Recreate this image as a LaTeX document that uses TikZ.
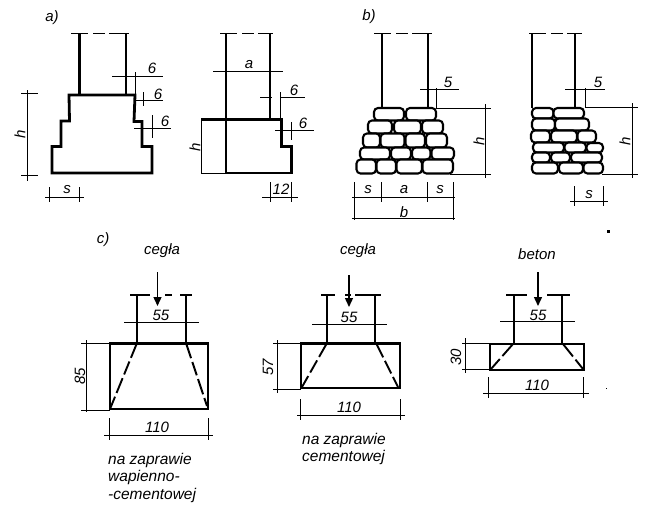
\documentclass[tikz,border=0pt]{standalone}
\usepackage{fontspec}
\setmainfont{Liberation Sans}
\usetikzlibrary{arrows.meta}
\tikzset{
  wall/.style={line width=2.8pt,line cap=butt,line join=miter},
  wallb/.style={line width=2.3pt,line cap=butt},
  med/.style={line width=2pt},
  dimn/.style={line width=0.9pt},
  topdash/.style={line width=1.8pt,dash pattern=on 17pt off 5pt on 12pt off 4pt on 20pt off 3pt},
  diag/.style={line width=1.9pt,dash pattern=on 16pt off 4pt on 14pt off 4pt},
  stone/.style={line width=2.1pt,rounded corners=4pt,fill=white},
  lab/.style={inner sep=0pt,font=\fontsize{15}{17}\selectfont\itshape},
  note/.style={inner sep=0pt,font=\fontsize{15.5}{17}\selectfont\itshape,anchor=west},
  load/.style={line width=1.4pt,-{Triangle[length=9pt,width=8pt]}},
}
\begin{document}
\begin{tikzpicture}[x=1pt,y=-1pt]
\useasboundingbox (0,0) rectangle (659,514);
\fill[white] (0,0) rectangle (659,514);

% ---------- a) left
\node[lab] (la) at (52,18) {a)};
\draw[wall] (79.5,33) -- (79.5,95);
\draw[wall] (126,33) -- (126,95);
\draw[topdash] (71,33.5) -- (131,33.5);
\draw[wall] (69,95) -- (135,95) -- (134,121.5) -- (142,121.5) -- (142,146.5) -- (152,146.5) -- (152,173) -- (52,173) -- (52,146.5) -- (61,146.5) -- (61,121) -- (69.5,121) -- cycle;
\draw[dimn] (112,76.5) -- (163,76.5) (135.5,72) -- (135.5,95);
\draw[dimn] (136,100.5) -- (163,100.5) (143,92) -- (143,106);
\draw[dimn] (134,128) -- (171,128) (152,115) -- (152,138);
\node[lab] (a6a) at (152,68) {6};
\node[lab] (a6b) at (158,94) {6};
\node[lab] (a6c) at (165,121) {6};
\draw[dimn] (27,90) -- (27,181) (21,93) -- (38,93) (21,175) -- (38,175);
\node[lab,rotate=90] (ah) at (20,134) {h};
\draw[dimn] (45,197.5) -- (84,197.5) (49,187) -- (49,202) (79,187) -- (79,202);
\node[lab] (as) at (67,190) {s};

% ---------- a) right
\draw[wallb] (226,33) -- (226,173);
\draw[wall] (270,33) -- (270,119);
\draw[topdash] (220,33.5) -- (273,33.5);
\draw[wall] (201,119.5) -- (281.5,119.5) -- (281.5,146.5) -- (291.5,146.5) -- (291.5,173) -- (226,173);
\draw[line width=1.6pt] (201.5,119) -- (201.5,173.5) -- (226,173.5);
\draw[dimn] (213,71) -- (283,71);
\node[lab] (aa) at (249,64.5) {a};
\draw[dimn] (260,97.5) -- (272,97.5) (280,97.5) -- (305,97.5) (280,92) -- (280,119);
\node[lab] (a6d) at (294,90) {6};
\draw[dimn] (275,130) -- (314,130) (291,122) -- (291,140);
\node[lab] (a6e) at (303,123) {6};
\node[lab,rotate=90] (ah2) at (195,147) {h};
\draw[dimn] (262,197.5) -- (298,197.5) (270,182) -- (270,202) (291,182) -- (291,202);
\node[lab] (a12) at (281,189) {12};

% ---------- b) left
\node[lab] (lb) at (369,17) {b)};
\draw[wallb] (382,33) -- (382,108);
\draw[wallb] (428,33) -- (428,108);
\draw[topdash] (374,33.5) -- (434,33.5);
\foreach \xa/\ya/\xb/\yb in {
 374/108/404/120.5, 406/108/436/120.5,
 368/120.5/392/133.5, 394/120.5/421/133.5, 422/120.5/443/133.5,
 363/133.5/380/147.5, 380.5/133.5/404.5/147.5, 405.5/133.5/425/147.5, 426/133.5/447/147.5,
 360/147.5/390/159.5, 391/147.5/411/159.5, 412/147.5/430.5/159.5, 431.5/147.5/454/159.5,
 356.5/159.5/376/173.5, 376.5/159.5/396/173.5, 396.5/159.5/422/173.5, 422.5/159.5/453/173.5}
 \draw[stone] (\xa,\ya) rectangle (\xb,\yb);
\draw[dimn] (420,89) -- (459,89) (436,88) -- (436,108);
\node[lab] (b5) at (448,82) {5};
\draw[dimn] (485,104) -- (485,178) (436,108) -- (491,108) (450,174) -- (491,174);
\node[lab,rotate=90] (bh) at (479,141) {h};
\draw[dimn] (352,197.5) -- (455,197.5) (354.5,182) -- (354.5,220) (381,182) -- (381,202) (427,182) -- (427,202) (453,182) -- (453,220);
\node[lab] (bs1) at (368,190) {s};
\node[lab] (ba) at (404,190) {a};
\node[lab] (bs2) at (440,190) {s};
\draw[dimn] (352,218.5) -- (455,218.5);
\node[lab] (bb) at (404,212) {b};

% ---------- b) right
\draw[wallb] (532,33) -- (532,108);
\draw[wallb] (575,33) -- (575,108);
\draw[topdash] (529,33.5) -- (582,33.5);
\foreach \xa/\ya/\xb/\yb in {
 532/108/553.5/118.5, 553.5/108/584/118.5,
 532/118.5/555/130.5, 555/118.5/589/130.5,
 531/130.5/550/142.5, 551/130.5/577/142.5, 577.5/130.5/596/142.5,
 533/142.5/564/152.5, 564.5/142.5/586/152.5, 586.5/143/603/152.5,
 532/152.5/550/162.5, 551/152.5/570/162.5, 571/152.5/602/162.5,
 532/162.5/558/173.5, 559/162.5/583/173.5, 583.5/162.5/603/173.5}
 \draw[stone] (\xa,\ya) rectangle (\xb,\yb);
\draw[dimn] (565,89) -- (605,89) (585,88) -- (585,108);
\node[lab] (b5b) at (598,82) {5};
\draw[dimn] (632,103) -- (632,178) (585,107.5) -- (638,107.5) (602,174.5) -- (638,174.5);
\node[lab,rotate=90] (bh2) at (625,141) {h};
\draw[dimn] (570,201) -- (608,201) (574,186) -- (574,206) (603,186) -- (603,206);
\node[lab] (bs3) at (589,195) {s};

% ---------- c) left
\node[lab] (lc) at (103,240) {c)};
\node[lab] (c1t) at (162,251) {cegła};
\draw[load] (157.5,272) -- (157.5,306);
\draw[wall] (137,294) -- (137,343);
\draw[wall] (186,294) -- (186,343);
\draw[med,dash pattern=on 20pt off 15pt on 7pt off 8pt on 12pt] (130,294.5) -- (192,294.5);
\draw[dimn] (124,322) -- (199,322);
\node[lab] (c155) at (161,315) {55};
\draw[wall] (110,343.5) rectangle (208,409);
\draw[diag] (137,343) -- (110,409);
\draw[diag] (186,343) -- (207,406);
\draw[dimn] (86,340) -- (86,412) (81,343) -- (110,343) (81,410) -- (110,410);
\node[lab,rotate=90] (c185) at (80,376) {85};
\draw[dimn] (104,435) -- (213,435) (109,418) -- (109,440) (208,418) -- (208,440);
\node[lab] (c1110) at (157,427) {110};
\node[note] (c1a) at (108,460) {na zaprawie};
\node[note] (c1b) at (108,477) {wapienno-};
\node[note] (c1c) at (108,495) {-cementowej};

% ---------- c) middle
\node[lab] (c2t) at (358,251) {cegła};
\draw[load] (349,275) -- (349,307);
\draw[wall] (327,294) -- (327,343);
\draw[wall] (375,294) -- (375,343);
\draw[med,dash pattern=on 14pt off 10pt on 6pt off 4pt on 30pt] (321,294.5) -- (381,294.5);
\draw[dimn] (312,324.5) -- (387,324.5);
\node[lab] (c255) at (349,317) {55};
\draw[wall] (301,343.5) rectangle (400,388);
\draw[diag] (327,343) -- (302,387);
\draw[diag] (376,343) -- (398,387);
\draw[dimn] (277,340) -- (277,393) (273,343) -- (301,343) (273,389) -- (301,389);
\node[lab,rotate=90] (c257) at (268,367) {57};
\draw[dimn] (297,415) -- (405,415) (300,399) -- (300,420) (400,399) -- (400,420);
\node[lab] (c2110) at (349,407.5) {110};
\node[note] (c2a) at (302,440) {na zaprawie};
\node[note] (c2b) at (302,457) {cementowej};

% ---------- c) right
\node[lab] (c3t) at (537,254) {beton};
\draw[load] (538,272) -- (538,306);
\draw[wall] (514,294) -- (514,344);
\draw[wall] (562,294) -- (562,344);
\draw[med,dash pattern=on 21pt off 20pt on 23pt] (506,294.5) -- (570,294.5);
\draw[dimn] (500,321) -- (575,321);
\node[lab] (c355) at (538,315) {55};
\draw[wall] (490,344) rectangle (584,370);
\draw[diag] (513,344) -- (491,369);
\draw[diag] (563,344) -- (583,369);
\draw[dimn] (465,338) -- (465,373) (462,343) -- (490,343) (462,369.5) -- (490,369.5);
\node[lab,rotate=90] (c330) at (456,357) {30};
\draw[dimn] (483,393) -- (589,393) (488,377) -- (488,398) (583,377) -- (583,398);
\node[lab] (c3110) at (537,385) {110};

% specks of the print
\fill (607,230) rectangle (609.5,233);
\fill (605.5,387.5) rectangle (606.5,388.5);
\end{tikzpicture}
\end{document}
